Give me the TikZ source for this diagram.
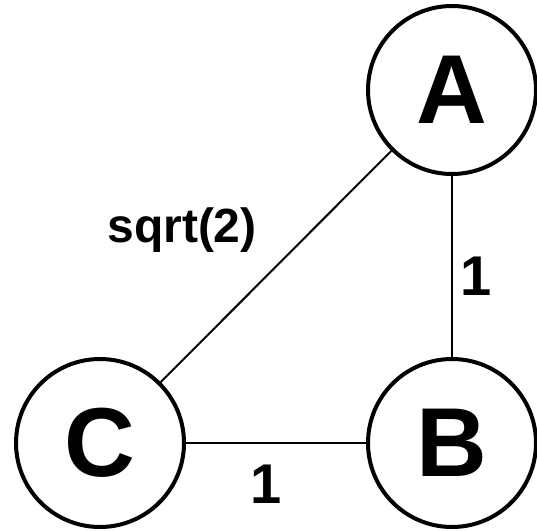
\documentclass[tikz,border=0pt]{standalone}
\usepackage{fontspec}
\setmainfont{Liberation Sans}
\usepackage{tikz}
\usetikzlibrary{positioning}

\tikzset{
  vertex/.style={draw, circle, line width=4pt, minimum size=168pt, inner sep=0pt,
    font=\fontsize{98}{98}\selectfont\bfseries},
  edge/.style={line width=2pt},
  weight/.style={font=\fontsize{48}{48}\selectfont\bfseries, inner sep=0pt},
  unit/.style={weight, font=\fontsize{56}{56}\selectfont\bfseries}
}

\begin{document}
\begin{tikzpicture}[x=1pt, y=-1pt]
\useasboundingbox (0,0) rectangle (537,530);
% vertices
\node[vertex] (A) at (452,90) {A};
\node[vertex] (B) at (452,443) {B};
\node[vertex] (C) at (100,443) {C};
% edges
\draw[edge] (A) -- (C);
\draw[edge] (A) -- (B);
\draw[edge] (C) -- (B);
% weights
\node[weight] (wac) at (182,230) {sqrt(2)};
\node[unit] (wab) at (476,276) {1};
\node[unit] (wcb) at (266,484) {1};
\end{tikzpicture}
\end{document}
